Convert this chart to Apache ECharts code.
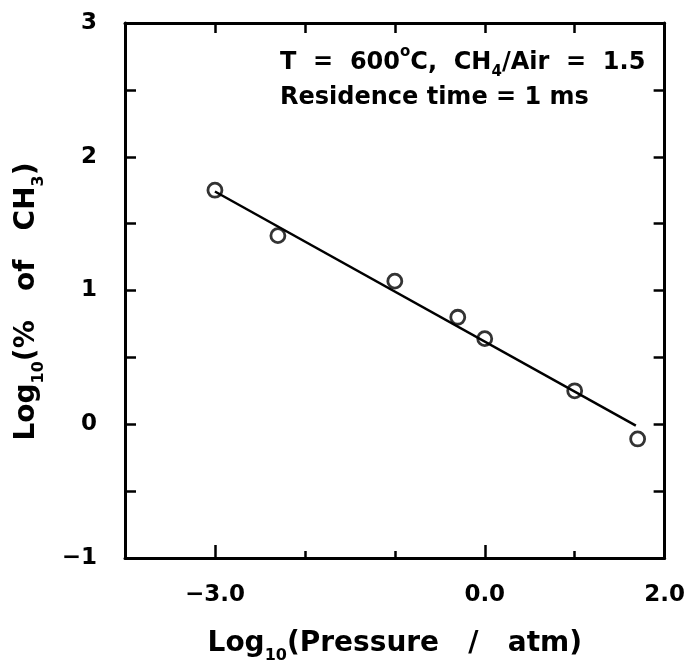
<!DOCTYPE html>
<html>
<head>
<meta charset="utf-8">
<script src="https://cdn.jsdelivr.net/npm/echarts@6/dist/echarts.min.js"></script>
<style>
  html, body { margin: 0; padding: 0; background: #fff; }
  #chart { width: 688px; height: 672px; }
</style>
</head>
<body>
<div id="chart"></div>
<script>
// measured points: log10(pressure / atm) vs log10(% of CH3)
var logPressure = [-3.0, -2.3, -1.0, -0.3, 0.0, 1.0, 1.7];
var logCH3 = [1.75, 1.41, 1.07, 0.80, 0.64, 0.25, -0.11];

// straight fit line, end points
var fitX = [-3.0, 1.68];
var fitY = [1.74, -0.01];

var xLabelValues = [-3, 0, 2];
var xLongTicks = [-3, 0];

var FONT = '"DejaVu Sans", Verdana, sans-serif';

function minus(s){
    return String(s).replace('-', '\u2212');
}

var points = logPressure.map(function(x, i){ return [x, logCH3[i]]; });
var fitLine = fitX.map(function(x, i){ return [x, fitY[i]]; });

var myChart = echarts.init(document.getElementById('chart'));

var frameLine = { show: true, onZero: false, lineStyle: { color: '#000', width: 3 } };
var tickStyle = { color: '#000', width: 2.5 };

var titleRich = {
    "a": { "fontFamily": FONT, "fontWeight": "bold", "fontSize": 28, "color": "#000", "lineHeight": 40, "verticalAlign": "middle" },
    "s": { "fontFamily": FONT, "fontWeight": "bold", "fontSize": 16, "color": "#000", "lineHeight": 16, "verticalAlign": "bottom" }
};

var option = {
    "backgroundColor": "#fff",
    "animation": false,
    "grid": { "left": 125, "right": 20, "top": 23, "bottom": 114 },
    "xAxis": [
        {
            "type": "value",
            "min": -4, "max": 2, "interval": 1,
            "position": "bottom",
            "axisLine": frameLine,
            "axisTick": { "show": true, "inside": true, "length": 7, "lineStyle": tickStyle },
            "splitLine": { "show": false },
            "axisLabel": {
                "margin": 26,
                "color": "#000",
                "fontFamily": FONT,
                "fontWeight": "bold",
                "fontSize": 23,
                "formatter": function(v){
                    return xLabelValues.indexOf(v) >= 0 ? minus(v.toFixed(1)) : '';
                }
            },
            "name": "{a|Log}{s|10}{a|(Pressure   /   atm)}",
            "nameLocation": "middle",
            "nameGap": 66,
            "nameTextStyle": { "rich": titleRich }
        },
        {
            "type": "value",
            "min": -4, "max": 2, "interval": 1,
            "position": "top",
            "axisLine": frameLine,
            "axisTick": { "show": true, "inside": true, "length": 10, "lineStyle": tickStyle },
            "axisLabel": { "show": false },
            "splitLine": { "show": false }
        },
        {
            // longer ticks at -3 and 0 on the bottom edge
            "type": "value",
            "min": -4, "max": 2,
            "position": "bottom",
            "axisLine": { "show": false, "onZero": false },
            "axisTick": { "show": true, "inside": true, "length": 13, "customValues": xLongTicks, "lineStyle": tickStyle },
            "axisLabel": { "show": false },
            "splitLine": { "show": false }
        }
    ],
    "yAxis": [
        {
            "type": "value",
            "min": -1, "max": 3, "interval": 0.5,
            "position": "left",
            "axisLine": frameLine,
            "axisTick": { "show": true, "inside": true, "length": 11, "lineStyle": tickStyle },
            "splitLine": { "show": false },
            "axisLabel": {
                "margin": 28,
                "color": "#000",
                "fontFamily": FONT,
                "fontWeight": "bold",
                "fontSize": 23,
                "formatter": function(v){
                    return Number.isInteger(v) ? minus(v) : '';
                }
            },
            "name": "{a|Log}{s|10}{a|(%   of   CH}{s|3}{a|)}",
            "nameLocation": "middle",
            "nameRotate": 90,
            "nameGap": 78,
            "nameTextStyle": { "rich": titleRich, "padding": [0, 22, 0, 0] }
        },
        {
            "type": "value",
            "min": -1, "max": 3, "interval": 0.5,
            "position": "right",
            "axisLine": frameLine,
            "axisTick": { "show": true, "inside": true, "length": 11, "lineStyle": tickStyle },
            "axisLabel": { "show": false },
            "splitLine": { "show": false }
        }
    ],
    "graphic": [
        {
            "type": "text",
            "left": 280,
            "top": 45,
            "style": {
                "text": "{a|T  =  600}{p|o}{a|C,  CH}{s|4}{a|/Air  =  1.5}\n{a|Residence time = 1 ms}",
                "rich": {
                    "a": { "fontFamily": FONT, "fontWeight": "bold", "fontSize": 24, "fill": "#000", "lineHeight": 35, "verticalAlign": "middle" },
                    "p": { "fontFamily": FONT, "fontWeight": "bold", "fontSize": 15, "fill": "#000", "lineHeight": 15, "verticalAlign": "top" },
                    "s": { "fontFamily": FONT, "fontWeight": "bold", "fontSize": 15, "fill": "#000", "lineHeight": 15, "verticalAlign": "bottom" }
                }
            }
        }
    ],
    "series": [
        {
            "name": "fit",
            "type": "line",
            "xAxisIndex": 0,
            "yAxisIndex": 0,
            "data": fitLine,
            "symbol": "none",
            "lineStyle": { "color": "#000", "width": 2.5 },
            "z": 2
        },
        {
            "name": "data",
            "type": "scatter",
            "xAxisIndex": 0,
            "yAxisIndex": 0,
            "data": points,
            "symbol": "circle",
            "symbolSize": 14,
            "itemStyle": { "color": "rgba(0,0,0,0)", "borderColor": "#000", "borderWidth": 2.8 },
            "z": 3
        }
    ]
};
myChart.setOption(option);
</script>
</body>
</html>
